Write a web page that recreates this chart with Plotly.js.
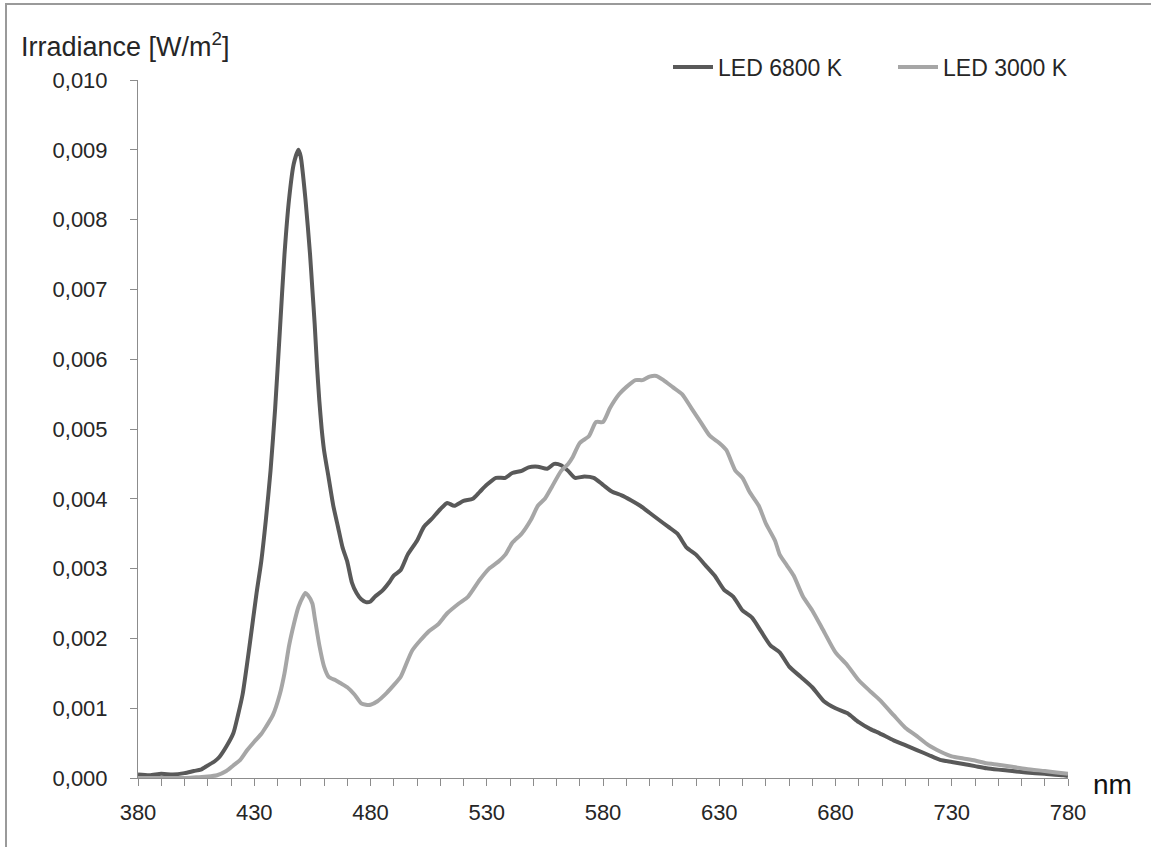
<!DOCTYPE html>
<html>
<head>
<meta charset="utf-8">
<script src="https://cdn.plot.ly/plotly-3.0.1.min.js"></script>
<style>
  html, body { margin: 0; padding: 0; background: #fff; }
  #frame { position: absolute; left: 5px; top: 3px; width: 1200px; height: 900px;
           border-left: 2px solid #9a9a9a; border-top: 2px solid #9a9a9a; }
  #chart { position: absolute; left: 0; top: 0; width: 1151px; height: 847px; }
</style>
</head>
<body>
<div id="frame"></div>
<div id="chart"></div>
<script>
// LED 6800 K
const nm6800 = [380,385,390,395,400,404,407,410,413,415,418,421,423,425,428,431,433,435,437,439,441,443,445,447,449,450,452,454,455,456,457,458,459,460,462,464,466,468,470,472,474,476,478,480,482,485,488,490,493,496,500,503,506,510,513,516,520,524,527,530,534,538,541,545,548,552,556,559,562,565,568,572,576,580,584,588,592,596,600,604,608,612,616,620,624,628,632,636,640,644,648,652,656,660,665,670,675,680,685,690,695,699,705,710,715,720,725,730,735,740,745,750,756,762,770,778,780];
const irr6800 = [0.00005,0.00004,0.00006,0.00005,0.00007,0.0001,0.00012,0.00018,0.00024,0.0003,0.00045,0.00064,0.0009,0.0012,0.0019,0.00265,0.0031,0.0037,0.0044,0.0053,0.0064,0.0075,0.0083,0.0088,0.0090,0.0089,0.0083,0.0075,0.0070,0.0065,0.0059,0.0054,0.0050,0.0047,0.0043,0.0039,0.0036,0.0033,0.0031,0.0028,0.00265,0.00256,0.00252,0.00253,0.0026,0.00268,0.0028,0.0029,0.00298,0.0032,0.0034,0.0036,0.0037,0.00385,0.00394,0.0039,0.00397,0.0040,0.0041,0.0042,0.0043,0.0043,0.00437,0.0044,0.00445,0.00446,0.00443,0.0045,0.00448,0.0044,0.0043,0.00432,0.0043,0.0042,0.0041,0.00405,0.00398,0.0039,0.0038,0.0037,0.0036,0.0035,0.0033,0.0032,0.00305,0.0029,0.0027,0.0026,0.0024,0.0023,0.0021,0.0019,0.0018,0.0016,0.00145,0.0013,0.0011,0.0010,0.00093,0.0008,0.0007,0.00064,0.00054,0.00047,0.0004,0.00033,0.00026,0.00023,0.0002,0.00017,0.00014,0.00012,0.0001,0.00008,0.00006,0.00004,0.00003];

// LED 3000 K
const nm3000 = [380,390,400,405,410,414,418,421,424,427,430,433,435,438,441,443,445,447,449,451,452,453,455,456,458,460,462,465,467,470,473,476,478,480,483,487,490,493,498,505,509,513,518,522,527,531,535,538,541,545,549,552,555,558,562,565,567,570,574,577,580,583,587,590,594,597,600,603,606,610,614,618,622,626,630,633,637,640,643,647,650,654,656,659,662,666,670,675,680,685,690,695,699,705,710,715,720,725,730,735,740,745,750,756,762,770,775,780];
const irr3000 = [0.0,0.0,0.0,0.00001,0.00002,0.00004,0.0001,0.00018,0.00026,0.0004,0.00052,0.00063,0.00073,0.0009,0.0012,0.0015,0.0019,0.0022,0.00245,0.0026,0.00265,0.00262,0.0025,0.0023,0.0019,0.0016,0.00145,0.0014,0.00136,0.0013,0.0012,0.00107,0.00105,0.00105,0.0011,0.00122,0.00133,0.00145,0.00183,0.0021,0.0022,0.00236,0.0025,0.0026,0.00284,0.0030,0.0031,0.0032,0.00337,0.0035,0.0037,0.0039,0.0040,0.00417,0.0044,0.0045,0.0046,0.0048,0.0049,0.0051,0.0051,0.0053,0.0055,0.0056,0.0057,0.0057,0.00575,0.00576,0.0057,0.0056,0.0055,0.0053,0.0051,0.0049,0.0048,0.0047,0.0044,0.0043,0.0041,0.0039,0.00365,0.0034,0.0032,0.00305,0.0029,0.0026,0.0024,0.0021,0.0018,0.00162,0.0014,0.00124,0.00112,0.0009,0.00072,0.0006,0.00047,0.00038,0.00031,0.00028,0.00025,0.00021,0.00019,0.00016,0.00013,0.0001,0.00008,0.00006];

const seriesNames = ['LED 6800 K', 'LED 3000 K'];
const yTitle = 'Irradiance [W/m<sup>2</sup>]';
const xUnit = 'nm';

const textColor = '#262626';
const fontFam = '"Liberation Sans", Arial, sans-serif';

const traces = [
  { x: nm6800, y: irr6800, name: seriesNames[0], type: 'scatter', mode: 'lines',
    line: { color: '#595959', width: 4, shape: 'spline', smoothing: 0.6 } },
  { x: nm3000, y: irr3000, name: seriesNames[1], type: 'scatter', mode: 'lines',
    line: { color: '#a6a6a6', width: 4, shape: 'spline', smoothing: 0.6 } }
];

const L = 138, R = 83, T = 80, B = 69;
const W = 1151, H = 847;
const pw = W - L - R, ph = H - T - B;
const px2x = p => (p - L) / pw;
const py2y = p => (H - B - p) / ph;

const layout = {
  width: W, height: H,
  margin: { l: L, r: R, t: T, b: B, autoexpand: false },
  paper_bgcolor: 'rgba(0,0,0,0)',
  plot_bgcolor: 'rgba(0,0,0,0)',
  separators: ',.',
  font: { family: fontFam, color: textColor, size: 22 },
  showlegend: true,
  legend: {
    orientation: 'h', x: px2x(668), y: py2y(67), xanchor: 'left', yanchor: 'middle',
    font: { size: 23, color: textColor }, bgcolor: 'rgba(0,0,0,0)',
    entrywidth: 170, entrywidthmode: 'pixels', itemwidth: 40
  },
  xaxis: {
    range: [380, 780], tick0: 380, dtick: 50, showgrid: false, zeroline: false,
    showline: true, linecolor: '#8c8c8c', linewidth: 1,
    ticks: 'outside', ticklen: 7, tickcolor: '#8c8c8c', tickwidth: 1,
    ticklabelstandoff: 8,
    minor: { dtick: 10, tick0: 380, ticks: 'outside', ticklen: 7, tickcolor: '#8c8c8c', tickwidth: 1, showgrid: false },
    tickfont: { size: 22, color: textColor }
  },
  yaxis: {
    range: [0, 0.010], dtick: 0.001, tickformat: '.3f', showgrid: false, zeroline: false,
    showline: true, linecolor: '#8c8c8c', linewidth: 1,
    ticks: 'outside', ticklen: 7, tickcolor: '#8c8c8c', tickwidth: 1,
    ticklabelstandoff: 18,
    tickfont: { size: 22, color: textColor }
  },
  annotations: [
    { text: yTitle, xref: 'paper', yref: 'paper', x: px2x(19), y: py2y(45),
      xanchor: 'left', yanchor: 'middle', showarrow: false, font: { size: 27, color: textColor } },
    { text: xUnit, xref: 'paper', yref: 'paper', x: px2x(1091), y: py2y(784),
      xanchor: 'left', yanchor: 'middle', showarrow: false, font: { size: 28, color: '#111' } }
  ]
};

Plotly.newPlot('chart', traces, layout, { displayModeBar: false, staticPlot: true });
</script>
</body>
</html>
